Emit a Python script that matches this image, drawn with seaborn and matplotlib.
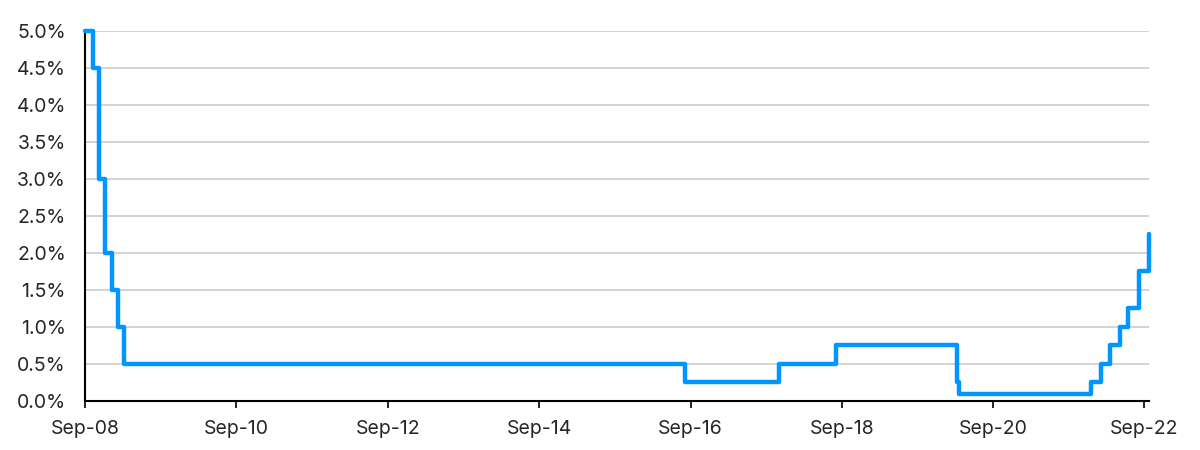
import matplotlib

matplotlib.use("Agg")
import matplotlib.dates as mdates
import matplotlib.pyplot as plt
import matplotlib.ticker as mticker
import pandas as pd
import seaborn as sns

# Bank Rate changes (date of change, new rate in %)
change_dates = [
    "2008-09-01", "2008-10-08", "2008-11-06", "2008-12-04", "2009-01-08",
    "2009-02-05", "2009-03-05", "2016-08-04", "2017-11-02", "2018-08-02",
    "2020-03-11", "2020-03-19", "2021-12-16", "2022-02-03", "2022-03-17",
    "2022-05-05", "2022-06-16", "2022-08-04", "2022-09-22",
]
rates = [
    5.0, 4.5, 3.0, 2.0, 1.5,
    1.0, 0.5, 0.25, 0.5, 0.75,
    0.25, 0.1, 0.25, 0.5, 0.75,
    1.0, 1.25, 1.75, 2.25,
]
tick_years = [2008, 2010, 2012, 2014, 2016, 2018, 2020, 2022]
y_ticks = [0.0, 0.5, 1.0, 1.5, 2.0, 2.5, 3.0, 3.5, 4.0, 4.5, 5.0]

df = pd.DataFrame({"date": pd.to_datetime(change_dates), "rate": rates})

sns.set_theme(style="white")
plt.rcParams["font.family"] = ["Inter", "DejaVu Sans"]

fig, ax = plt.subplots(figsize=(12, 4.5), dpi=100)
fig.subplots_adjust(left=0.071, right=0.9575, top=0.931, bottom=0.109)

sns.lineplot(
    data=df,
    x="date",
    y="rate",
    ax=ax,
    color="#0096ff",
    linewidth=3.2,
    drawstyle="steps-post",
    clip_on=False,
    zorder=3,
)

ax.set_xlim(pd.Timestamp("2008-09-01"), pd.Timestamp("2022-09-23"))
ax.set_ylim(0, 5)
ax.set_yticks(y_ticks)
ax.yaxis.set_major_formatter(mticker.FuncFormatter(lambda v, _: f"{v:.1f}%"))
ax.set_xticks([pd.Timestamp(f"{y}-09-01") for y in tick_years])
ax.xaxis.set_major_formatter(mdates.DateFormatter("%b-%y"))

ax.grid(axis="y", color="#cccccc", linewidth=1.2)
ax.set_axisbelow(True)
for side in ["top", "right"]:
    ax.spines[side].set_visible(False)
for side in ["left", "bottom"]:
    ax.spines[side].set_color("black")
    ax.spines[side].set_linewidth(1.5)

ax.tick_params(axis="x", bottom=True, length=5, width=1.2, color="black",
               labelsize=14, pad=9)
ax.tick_params(axis="y", left=False, labelsize=14, pad=8)
ax.set_xlabel("")
ax.set_ylabel("")

plt.savefig("out.png", dpi=100)
